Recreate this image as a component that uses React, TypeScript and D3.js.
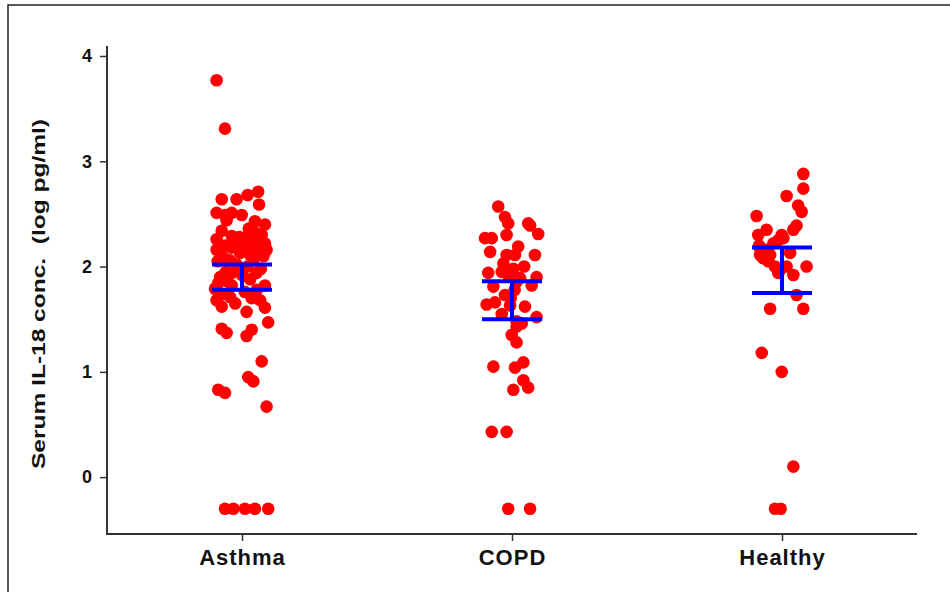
import * as d3 from "d3";
import { useEffect, useRef } from "react";

// groups and tick labels
const groups = ["Asthma", "COPD", "Healthy"];
const yTicks = [0, 1, 2, 3, 4];

// log IL-18 values, with a jitter in [-1, 1] for each dot
const asthmaValues = [
  3.77, 3.31, 2.64, 2.64, 2.68, 2.71, 2.59, 2.51, 2.49, 2.51, 2.49, 2.44, 2.43, 2.4,
  2.26, 2.29, 2.27, 2.28, 2.3, 2.16, 2.2, 2.22, 2.2, 2.19, 2.16, 2.13, 2.11, 2.09,
  1.9, 1.94, 1.94, 1.84, 1.79, 1.82, 1.82, 1.68, 1.62, 1.71, 1.7, 1.68, 1.57, 1.61,
  1.47, 1.41, 1.37, 1.4, 1.34, 1.1, 0.95, 0.91, 0.83, 0.8, 0.67,
  -0.3, -0.3, -0.3, -0.3, -0.3,
  2.24, 2.25, 2.22, 2.18, 2.05, 2.02, 2.0, 1.98, 1.95, 2.08, 2.1, 1.88, 1.86, 1.76,
  1.74, 1.78, 2.34, 2.36, 2.32, 1.92, 2.06, 1.65, 2.28, 2.14,
];
const asthmaJitter = [
  -0.94, -0.63, -0.75, -0.2, 0.21, 0.6, 0.63, -0.94, -0.63, -0.38, -0.01, -0.57, 0.48, 0.85,
  -0.94, -0.38, 0.04, 0.36, 0.73, -0.94, -0.63, -0.2, 0.23, 0.54, 0.91, -0.07, 0.3, -0.7,
  -0.81, -0.38, 0.54, -0.89, -1.0, -0.38, 0.85, -0.94, -0.75, -0.44, 0.36, 0.67, 0.17, 0.85,
  0.97, -0.75, -0.57, 0.36, 0.17, 0.73, 0.23, 0.42, -0.88, -0.63, 0.91,
  -0.63, -0.32, 0.11, 0.48, 0.97,
  0.1, 0.6, 0.85, -0.4, -0.9, -0.2, 0.2, 0.7, -0.6, 0.45, 0.8, 0.3, -0.55, 0.1,
  -0.7, 0.55, -0.75, 0.25, 0.5, 0.0, -0.45, -0.25, -0.1, 0.6,
];

const copdValues = [
  2.57, 2.47, 2.41, 2.41, 2.39, 2.31, 2.27, 2.27, 2.3, 2.19, 2.14, 2.11, 2.11, 2.11,
  2.03, 1.94, 1.95, 1.95, 1.89, 1.9, 1.81, 1.82, 1.73, 1.64, 1.66, 1.63, 1.62, 1.55,
  1.52, 1.48, 1.43, 1.46, 1.35, 1.28, 1.05, 1.04, 1.09, 0.92, 0.85, 0.83, 0.43, 0.43,
  -0.3, -0.3, 1.98, 1.92, 1.85, 1.78, 2.0, 1.7,
];
const copdJitter = [
  -0.51, -0.26, -0.14, 0.6, 0.67, 0.97, -1.0, -0.75, -0.2, 0.23, -0.81, 0.85, -0.2, 0.11,
  -0.32, -0.88, -0.38, -0.01, 0.3, 0.91, -0.69, 0.73, -0.26, -0.94, -0.63, -0.07, 0.48, -0.38,
  0.91, 0.17, 0.17, 0.36, -0.01, 0.17, -0.69, 0.11, 0.42, 0.42, 0.6, 0.05, -0.75, -0.2,
  -0.14, 0.67, 0.05, -0.15, 0.15, 0.1, 0.45, -0.05,
];

const healthyValues = [
  2.88, 2.74, 2.67, 2.58, 2.52, 2.48, 2.39, 2.35, 2.35, 2.3, 2.3, 2.25, 2.22, 2.27,
  2.17, 2.16, 2.11, 2.11, 2.13, 2.05, 2.0, 1.97, 2.0, 2.0, 1.92, 1.94, 1.73, 1.6,
  1.6, 1.18, 1.0, 0.1, -0.3, -0.3, 2.08, 2.2,
];
const healthyJitter = [
  0.79, 0.79, 0.17, 0.6, 0.73, -0.94, 0.54, 0.42, -0.57, -0.88, -0.01, -0.14, -0.32, 0.05,
  -0.81, -0.57, -0.81, -0.44, 0.3, -0.51, -0.26, -0.07, 0.17, 0.91, 0.42, -0.14, 0.54, -0.44,
  0.79, -0.75, -0.01, 0.42, -0.26, -0.05, -0.7, -0.85,
];

// error bar ends (lower, upper)
const barLow = [1.78, 1.5, 1.75];
const barHigh = [2.02, 1.86, 2.18];

const App = () => {
  const ref = useRef<SVGSVGElement>(null);

  useEffect(() => {
    const svg = d3.select(ref.current);
    svg.selectAll("*").remove();

    const left = 107, right = 917, top = 46, bottom = 534;
    const font = "'Liberation Sans', Arial, sans-serif";
    const axisColor = "#333";

    // frame
    svg
      .append("path")
      .attr("d", "M8,600V5H960")
      .attr("fill", "none")
      .attr("stroke", "#222")
      .attr("stroke-width", 1.5);

    const x = d3.scalePoint().domain(groups).range([left, right]).padding(0.5);
    const y = d3.scaleLinear().domain([-0.54, 4.095]).range([bottom, top]);
    const jitter = d3.scaleLinear().domain([-1, 1]).range([-27, 27]);

    // axes
    const gy = svg.append("g").attr("transform", `translate(${left},0)`);
    gy.call(d3.axisLeft(y).tickValues(yTicks).tickSize(7).tickPadding(8).tickFormat(d3.format("d")));
    const gx = svg.append("g").attr("transform", `translate(0,${bottom})`);
    gx.call(d3.axisBottom(x).tickSize(7).tickPadding(8));
    [gx, gy].forEach((g) => {
      g.select(".domain").attr("stroke", axisColor).attr("stroke-width", 2)
        .attr("d", g === gy ? `M0,${top}V${bottom + 1}` : `M${left - 1},0H${right}`);
      g.selectAll(".tick line").attr("stroke", axisColor).attr("stroke-width", 1.5);
      g.selectAll(".tick text").attr("fill", "#111").attr("font-family", font).attr("font-weight", "bold");
    });
    gy.selectAll(".tick text").attr("font-size", 18);
    gx.selectAll(".tick text").attr("font-size", 22).attr("letter-spacing", 1);

    // y title
    svg
      .append("text")
      .attr("transform", `translate(45,${294}) rotate(-90)`)
      .attr("text-anchor", "middle")
      .attr("font-family", font)
      .attr("font-size", 19)
      .attr("font-weight", "bold")
      .attr("fill", "#111")
      .attr("textLength", 350)
      .attr("lengthAdjust", "spacingAndGlyphs")
      .text("Serum IL-18 conc.\u00a0\u00a0(log pg/ml)");

    // dots
    const sets = [
      { name: "Asthma", values: asthmaValues, jit: asthmaJitter },
      { name: "COPD", values: copdValues, jit: copdJitter },
      { name: "Healthy", values: healthyValues, jit: healthyJitter },
    ];
    sets.forEach((s) => {
      svg
        .append("g")
        .selectAll("circle")
        .data(s.values)
        .join("circle")
        .attr("cx", (_, i) => (x(s.name) as number) + jitter(s.jit[i]))
        .attr("cy", (d) => y(d))
        .attr("r", 6.3)
        .attr("fill", "#ff0000");
    });

    // error bars
    const eb = svg.append("g").attr("stroke", "#0000ff").attr("stroke-width", 4);
    groups.forEach((g, i) => {
      const cx = x(g) as number;
      eb.append("line").attr("x1", cx).attr("x2", cx).attr("y1", y(barLow[i])).attr("y2", y(barHigh[i]));
      [barLow[i], barHigh[i]].forEach((v) => {
        eb.append("line").attr("x1", cx - 30).attr("x2", cx + 30).attr("y1", y(v)).attr("y2", y(v));
      });
    });
  }, []);

  return (
    <svg
      ref={ref}
      width={950}
      height={592}
      style={{ position: "absolute", left: 0, top: 0, background: "#fff" }}
    />
  );
};

export default App;
